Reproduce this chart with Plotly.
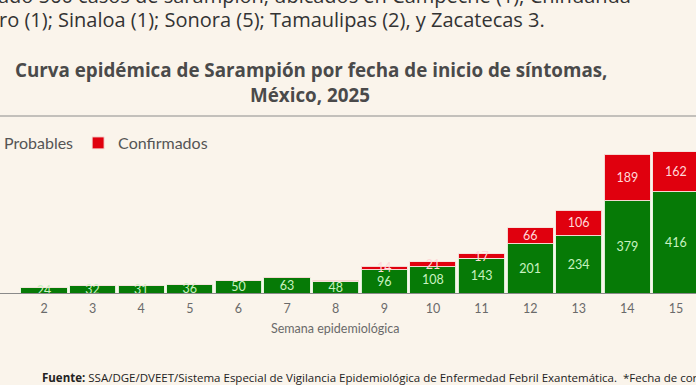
import plotly.graph_objects as go

# ---- data ----
semanas = [2, 3, 4, 5, 6, 7, 8, 9, 10, 11, 12, 13, 14, 15]
probables = [24, 32, 31, 36, 50, 63, 48, 96, 108, 143, 201, 234, 379, 416]
confirmados = [0, 0, 0, 0, 0, 1, 5, 14, 21, 17, 66, 106, 189, 162]
tick_labels = [str(s) for s in semanas]

W, H = 696, 385
PLOT_TOP, PLOT_BOT = 120, 293
PH = PLOT_BOT - PLOT_TOP


def py(px):
    return (PLOT_BOT - px) / PH


def pxx(px):
    return px / W


BG = "rgb(250,244,235)"
GREEN = "#067a06"
RED = "#e0000e"

fig = go.Figure()
fig.add_trace(go.Bar(
    x=semanas, y=probables, name="Probables",
    marker=dict(color=GREEN, line=dict(color="rgba(225,245,220,0.95)", width=1)),
    width=0.95,
    text=[str(v) for v in probables], textposition="inside", constraintext="none",
    insidetextanchor="middle", textangle=0,
    textfont=dict(family="Lato", size=12.5, color="#c8f2c0"),
))
fig.add_trace(go.Bar(
    x=semanas, y=confirmados, name="Confirmados",
    marker=dict(color=RED, line=dict(color="rgba(245,225,220,0.95)", width=1)),
    width=0.95,
    text=[str(v) if v >= 10 else "" for v in confirmados], textposition="inside",
    constraintext="none", insidetextanchor="middle", textangle=0,
    textfont=dict(family="Lato", size=12.5, color="#ffd8d8"),
))

fig.update_layout(
    width=W, height=H, barmode="stack",
    paper_bgcolor=BG, plot_bgcolor=BG,
    margin=dict(l=0, r=0, t=PLOT_TOP, b=H - PLOT_BOT, pad=0, autoexpand=False),
    showlegend=True,
    legend=dict(orientation="h", x=pxx(-36), xanchor="left", y=py(143), yanchor="middle",
                font=dict(family="Lato", size=16, color="#555555"),
                bgcolor="rgba(0,0,0,0)", itemwidth=30, traceorder="normal"),
    xaxis=dict(range=[1.095, 15.412], tickmode="array", tickvals=semanas, ticktext=tick_labels,
               showgrid=False, zeroline=False, showline=True, linecolor="#8a8a8a", linewidth=1,
               ticks="", ticklabelstandoff=4, automargin=False,
               tickfont=dict(family="Lato", size=12.5, color="#6a6a6a")),
    yaxis=dict(range=[0, PH / 0.244], visible=False, showgrid=False, zeroline=False,
               automargin=False),
)

# x-axis title (sits left of the plot centre in the reference)
fig.add_annotation(text="Semana epidemiológica", x=pxx(335), y=py(328), xref="paper", yref="paper",
                   showarrow=False, xanchor="center", yanchor="middle",
                   font=dict(family="Lato", size=12.5, color="#6a6a6a"))

# Title
fig.add_annotation(text="<b>Curva epidémica de Sarampión por fecha de inicio de síntomas,</b>",
                   x=pxx(311), y=py(70), xref="paper", yref="paper", showarrow=False,
                   xanchor="center", yanchor="middle",
                   font=dict(family="Open Sans", size=18.8, color="#4a4a4a"))
fig.add_annotation(text="<b>México, 2025</b>",
                   x=pxx(310), y=py(95), xref="paper", yref="paper", showarrow=False,
                   xanchor="center", yanchor="middle",
                   font=dict(family="Open Sans", size=18.8, color="#4a4a4a"))

# Cropped slide text at the top
fig.add_annotation(text="ado 560 casos de sarampión, ubicados en Campeche (1); Chihuahua",
                   x=pxx(-4), y=py(-5), xref="paper", yref="paper", showarrow=False,
                   xanchor="left", yanchor="middle",
                   font=dict(family="Open Sans", size=20, color="#333333"))
fig.add_annotation(text="ro (1); Sinaloa (1); Sonora (5); Tamaulipas (2), y Zacatecas 3.",
                   x=pxx(-3), y=py(19), xref="paper", yref="paper", showarrow=False,
                   xanchor="left", yanchor="middle",
                   font=dict(family="Open Sans", size=20, color="#333333"))

# Footer
fig.add_annotation(text="<b>Fuente:</b> SSA/DGE/DVEET/Sistema Especial de Vigilancia Epidemiológica de Enfermedad Febril Exantemática.  *Fecha de corte de",
                   x=pxx(40), y=py(377), xref="paper", yref="paper", showarrow=False,
                   xanchor="left", yanchor="middle",
                   font=dict(family="Open Sans", size=11.5, color="#222222"))

# Divider line under the title
fig.add_shape(type="line", xref="paper", yref="paper", x0=0, x1=1, y0=py(116), y1=py(116),
              line=dict(color="#8c8c8c", width=1.2))

fig.write_html("out.html", config={"displayModeBar": False},
               post_script="document.body.style.margin='0';document.body.style.overflow='hidden';")
